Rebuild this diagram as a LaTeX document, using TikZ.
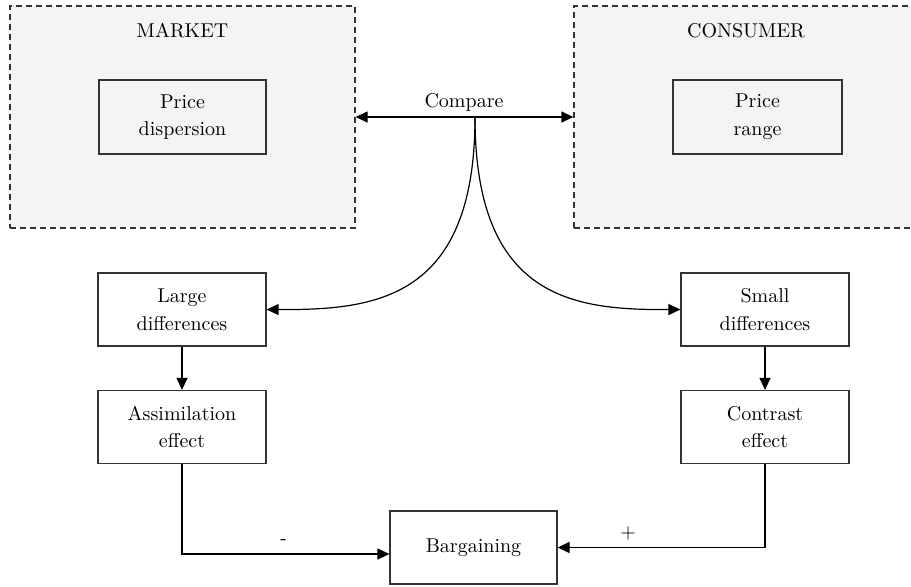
\documentclass[tikz,border=0pt]{standalone}
\usepackage{xcolor}
\usepackage{tikz}
\usetikzlibrary{arrows.meta,positioning}
\definecolor{panelgray}{HTML}{F3F4F6}
\definecolor{edgegray}{HTML}{333333}
\begin{document}
\begin{tikzpicture}[
  x=0.5pt, y=-0.5pt,
  panel/.style={draw=edgegray, dashed, dash pattern=on 3pt off 2pt, fill=panelgray, line width=0.6pt},
  box/.style={draw=edgegray, line width=0.6pt, minimum width=84pt, minimum height=36.5pt, align=center, inner sep=2pt, font=\linespread{1.15}\selectfont},
  arrow/.style={-{Triangle[length=6pt, width=5.5pt]}, line width=0.6pt},
  twoway/.style={{Triangle[length=6pt, width=5.5pt]}-{Triangle[length=6pt, width=5.5pt]}, line width=0.6pt}
]
\useasboundingbox (0,0) rectangle (911,586);

\node[panel, minimum width=172.5pt, minimum height=111pt] (market) at (182.5,117) {};
\node[panel, minimum width=178pt, minimum height=111pt] (consumer) at (752,117) {};
\node (marketlbl) at (182.5,31) {MARKET};
\node (consumerlbl) at (746,31) {CONSUMER};

\node[box, minimum width=83.5pt, minimum height=37pt] (pdisp) at (182.5,117) {Price\\dispersion};
\node[box, minimum width=84.5pt, minimum height=37pt] (prange) at (757.5,117) {Price\\range};

\node (compare) at (464,102) {Compare};
\coordinate (split) at (475,117);

\node[box] (large) at (182,309.5) {Large\\differences};
\node[box] (small) at (765,309.5) {Small\\differences};
\node[box] (assim) at (182,427) {Assimilation\\effect};
\node[box] (contrast) at (765,427) {Contrast\\effect};
\node[box, minimum width=83.5pt] (barg) at (473.5,547.5) {Bargaining};

\draw[twoway] (market.east) -- (consumer.west);
\draw[arrow] (split) .. controls (475,300) and (375,310) .. (large.east);
\draw[arrow] (split) .. controls (475,300) and (575,310) .. (small.west);

\draw[arrow] (large.south) -- (assim.north);
\draw[arrow] (small.south) -- (contrast.north);

\draw[arrow] (assim.south) |- ([yshift=-3.25pt]barg.west) node[pos=0.745, above=1pt] (minus) {-};
\draw[arrow] (contrast.south) |- (barg.east) node[pos=0.83, above=0pt] (plus) {+};
\end{tikzpicture}
\end{document}
